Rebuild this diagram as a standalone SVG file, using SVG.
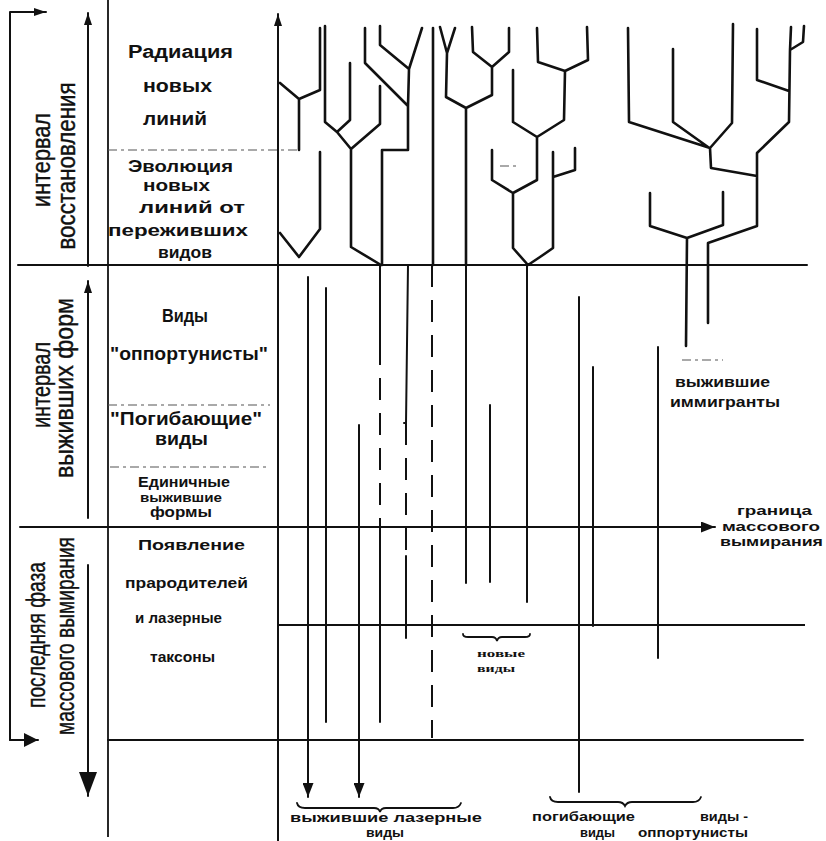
<svg xmlns="http://www.w3.org/2000/svg" width="826" height="841" viewBox="0 0 826 841">
<style>
.ln{fill:none;stroke:#111;stroke-width:2;stroke-linecap:round;stroke-linejoin:round}
.tr{fill:none;stroke:#111;stroke-width:2.6;stroke-linejoin:round;stroke-linecap:round}
.th{fill:none;stroke:#111;stroke-width:1.8}
.ds{fill:none;stroke:#111;stroke-width:2;stroke-dasharray:22 13}
.dt{fill:none;stroke:#555;stroke-width:1.2;stroke-dasharray:9 4 3 4}
.br{fill:none;stroke:#111;stroke-width:1.8;stroke-linecap:round}
.t{font-family:"Liberation Sans",Arial,sans-serif;font-weight:bold;fill:#111}
.r{font-family:"Liberation Sans",Arial,sans-serif;fill:#111;font-size:25px;text-anchor:middle;stroke:#111;stroke-width:0.4}
.s{font-family:"Liberation Serif","Times New Roman",serif;font-weight:bold;fill:#111;font-size:10.5px}
</style>
<defs>
<marker id="a1" markerUnits="userSpaceOnUse" markerWidth="12" markerHeight="8" refX="12" refY="4" orient="auto"><path d="M0,0 L12,4 L0,8 z" fill="#111"/></marker>
<marker id="a2" markerUnits="userSpaceOnUse" markerWidth="14" markerHeight="11" refX="14" refY="5.5" orient="auto"><path d="M0,0 L14,5.5 L0,11 z" fill="#111"/></marker>
<marker id="a3" markerUnits="userSpaceOnUse" markerWidth="24" markerHeight="18" refX="24" refY="9" orient="auto"><path d="M0,0 L24,9 L0,18 z" fill="#111"/></marker>
<marker id="a4" markerUnits="userSpaceOnUse" markerWidth="14" markerHeight="14" refX="14" refY="7" orient="auto"><path d="M0,0 L14,7 L0,14 z" fill="#111"/></marker>
</defs>

<g id="frame">
<line class="th" x1="108" y1="0" x2="108" y2="837"/>
<line class="ln" x1="278" y1="841" x2="278" y2="14" marker-end="url(#a1)"/>
<line class="ln" x1="18" y1="265" x2="807" y2="265"/>
<line class="ln" x1="20" y1="527" x2="715" y2="527" marker-end="url(#a2)"/>
<line class="th" x1="278" y1="625" x2="805" y2="625"/>
<line class="ln" x1="108" y1="740" x2="803" y2="740"/>
<line class="dt" x1="108" y1="150" x2="299" y2="150"/>
<line class="dt" x1="108" y1="405" x2="270" y2="405"/>
<line class="dt" x1="110" y1="467" x2="270" y2="467"/>
<line class="dt" x1="682" y1="360" x2="723" y2="360"/>
<line class="dt" x1="500" y1="166" x2="518" y2="166"/>
</g>

<g id="left-arrows">
<polyline class="ln" points="10,740 10,12 46,12" marker-end="url(#a1)"/>
<line class="ln" x1="10" y1="740" x2="38" y2="740" marker-end="url(#a4)"/>
<line class="ln" x1="88" y1="266" x2="88" y2="13" marker-end="url(#a1)"/>
<line class="ln" x1="88" y1="518" x2="88" y2="281" marker-end="url(#a1)"/>
<line class="ln" x1="88" y1="565" x2="88" y2="796" marker-end="url(#a3)"/>
</g>

<g id="labels-left">
<text class="r" transform="translate(50,160) rotate(-90)" textLength="94" lengthAdjust="spacingAndGlyphs">интервал</text>
<text class="r" transform="translate(75,166) rotate(-90)" textLength="167" lengthAdjust="spacingAndGlyphs">восстановления</text>
<text class="r" transform="translate(50,385) rotate(-90)" textLength="86" lengthAdjust="spacingAndGlyphs">интервал</text>
<text class="r" transform="translate(73,388) rotate(-90)" textLength="180" lengthAdjust="spacingAndGlyphs">выживших форм</text>
<text class="r" transform="translate(45,635) rotate(-90)" textLength="146" lengthAdjust="spacingAndGlyphs">последняя фаза</text>
<text class="r" transform="translate(74,636) rotate(-90)" textLength="198" lengthAdjust="spacingAndGlyphs">массового вымирания</text>
</g>

<g id="labels-column" class="t" font-size="18">
<text x="128" y="58" textLength="105" lengthAdjust="spacingAndGlyphs">Радиация</text>
<text x="143" y="92" textLength="69" lengthAdjust="spacingAndGlyphs">новых</text>
<text x="143" y="125" textLength="64" lengthAdjust="spacingAndGlyphs">линий</text>
<text x="128" y="172" font-size="16" textLength="105" lengthAdjust="spacingAndGlyphs">Эволюция</text>
<text x="143" y="191" font-size="16" textLength="67" lengthAdjust="spacingAndGlyphs">новых</text>
<text x="139" y="213" font-size="17" textLength="106" lengthAdjust="spacingAndGlyphs">линий от</text>
<text x="108" y="236" font-size="17" textLength="140" lengthAdjust="spacingAndGlyphs">переживших</text>
<text x="158" y="258" font-size="17" textLength="54" lengthAdjust="spacingAndGlyphs">видов</text>
<text x="162" y="322" textLength="46" lengthAdjust="spacingAndGlyphs">Виды</text>
<text x="110" y="360" textLength="158" lengthAdjust="spacingAndGlyphs">"оппортунисты"</text>
<text x="110" y="425" textLength="152" lengthAdjust="spacingAndGlyphs">"Погибающие"</text>
<text x="155" y="445" textLength="53" lengthAdjust="spacingAndGlyphs">виды</text>
<text x="138" y="487" font-size="14" textLength="92" lengthAdjust="spacingAndGlyphs">Единичные</text>
<text x="140" y="502" font-size="13" textLength="82" lengthAdjust="spacingAndGlyphs">выжившие</text>
<text x="150" y="517" font-size="14" textLength="62" lengthAdjust="spacingAndGlyphs">формы</text>
<text x="138" y="550" font-size="14" textLength="107" lengthAdjust="spacingAndGlyphs">Появление</text>
<text x="125" y="588" font-size="14" textLength="123" lengthAdjust="spacingAndGlyphs">прародителей</text>
<text x="135" y="623" font-size="14" textLength="87" lengthAdjust="spacingAndGlyphs">и лазерные</text>
<text x="150" y="662" font-size="14" textLength="65" lengthAdjust="spacingAndGlyphs">таксоны</text>
</g>

<g id="trees">
<path class="tr" d="M280,83 L299,99 L320,90 L320,28 M299,99 L299,150"/>
<path class="tr" d="M280,233 L299,257 L320,229 L320,152"/>
<path class="tr" d="M325,26 L325,122 L337,132 L350,120 L350,63 M337,132 L351,149 L380,124 L380,86 M351,149 L351,247 L381,265"/>
<path class="tr" d="M365,28 L365,63 L408,106 M380,26 L380,45 L409,69 L422,28 M409,69 L408,106 L408,150 L382,150 L382,265"/>
<path class="tr" d="M433,28 L433,265"/>
<path class="tr" d="M440,27 L447,53 L455,28 M447,53 L446,97 L466,108 L492,95 L492,67 M472,27 L473,52 L492,67 L509,52 L509,28 M466,108 L466,265"/>
<path class="tr" d="M537,28 L538,62 L565,71 L588,60 L587,27 M565,71 L564,120 L537,137 L513,122 L513,70 M537,137 L537,180 L513,193 L492,180 L492,150 M513,193 L513,248 L528,265 L540,257 L553,248 L553,152 M553,177 L575,170 L575,148"/>
<path class="tr" d="M628,28 L629,122 L710,148 M673,49 L673,122 L708,147 M733,24 L732,123 L710,148 M710,148 L711,168 L757,176 M757,29 L757,80 L789,91 M791,27 L790,50 L803,42 L804,26 M790,50 L789,122 L757,153 L757,226 L708,243 L708,323 M650,193 L650,226 L687,238 L723,225 L723,192 M687,238 L686,346"/>
</g>

<g id="lineages">
<line class="ln" x1="308" y1="277" x2="308" y2="797" marker-end="url(#a2)"/>
<line class="ln" x1="326" y1="288" x2="326" y2="722"/>
<line class="ln" x1="359" y1="425" x2="359" y2="797" marker-end="url(#a2)"/>
<line class="ln" x1="380" y1="265" x2="380" y2="343"/>
<line class="ds" x1="380" y1="343" x2="380" y2="527"/>
<line class="ln" x1="380" y1="527" x2="380" y2="722"/>
<polyline class="ln" points="408,265 406,423 404,423"/>
<line class="ds" x1="406" y1="423" x2="406" y2="556"/>
<line class="ln" x1="406" y1="556" x2="406" y2="638"/>
<line class="ds" x1="432" y1="265" x2="432" y2="738"/>
<line class="ln" x1="466" y1="265" x2="466" y2="583"/>
<line class="ln" x1="490" y1="405" x2="490" y2="582"/>
<line class="ln" x1="527" y1="265" x2="527" y2="602"/>
<line class="ln" x1="579" y1="297" x2="579" y2="792"/>
<line class="ln" x1="593" y1="367" x2="593" y2="626"/>
<line class="ln" x1="658" y1="347" x2="658" y2="658"/>
</g>

<g id="braces">
<path class="br" d="M463,634 Q463,637 468,637 L492,637 Q496,637 497,641 Q498,637 502,637 L525,637 Q530,637 530,634"/>
<path class="br" d="M297,803 Q298,808 305,808 L374,808 Q379,808 380,812 Q381,808 386,808 L453,808 Q459,808 461,803"/>
<path class="br" d="M550,797 Q551,802 558,802 L618,802 Q623,802 625,806 Q627,802 632,802 L693,802 Q699,802 701,797"/>
</g>

<g id="labels-right" class="t" font-size="14">
<text x="675" y="387" textLength="95" lengthAdjust="spacingAndGlyphs">выжившие</text>
<text x="670" y="407" textLength="110" lengthAdjust="spacingAndGlyphs">иммигранты</text>
<text x="737" y="515" font-size="13" textLength="75" lengthAdjust="spacingAndGlyphs">граница</text>
<text x="722" y="531" font-size="13" textLength="98" lengthAdjust="spacingAndGlyphs">массового</text>
<text x="720" y="546" font-size="13" textLength="103" lengthAdjust="spacingAndGlyphs">вымирания</text>
<text class="s" x="477" y="657" textLength="48" lengthAdjust="spacingAndGlyphs">новые</text>
<text class="s" x="477" y="672" textLength="38" lengthAdjust="spacingAndGlyphs">виды</text>
<text x="290" y="822" font-size="13" textLength="192" lengthAdjust="spacingAndGlyphs">выжившие  лазерные</text>
<text x="366" y="837" font-size="13" textLength="38" lengthAdjust="spacingAndGlyphs">виды</text>
<text x="532" y="821" font-size="13" textLength="103" lengthAdjust="spacingAndGlyphs">погибающие</text>
<text x="700" y="821" font-size="13" textLength="48" lengthAdjust="spacingAndGlyphs">виды -</text>
<text x="580" y="837" font-size="13" textLength="35" lengthAdjust="spacingAndGlyphs">виды</text>
<text x="638" y="837" font-size="13" textLength="110" lengthAdjust="spacingAndGlyphs">оппортунисты</text>
</g>
</svg>
